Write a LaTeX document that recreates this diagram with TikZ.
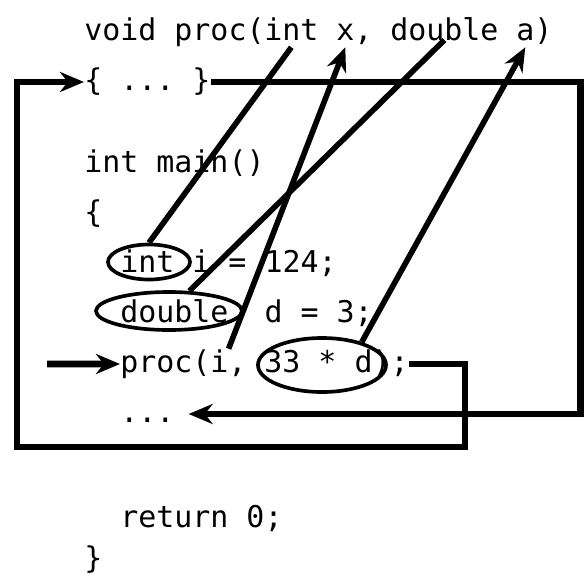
\documentclass[tikz,border=0pt]{standalone}
\usepackage{fontspec}
\setmonofont{DejaVu Sans Mono}
\usetikzlibrary{arrows.meta,shapes.geometric,calc}

\begin{document}
\begin{tikzpicture}[
   x=0.025cm,y=-0.025cm,
   code/.style={anchor=base west,inner sep=0pt,text height=0.575cm,text depth=0.175cm,
     font=\ttfamily\fontsize{21.3}{26}\selectfont},
   oval/.style={ellipse,draw,line width=2.6pt,inner sep=0pt},
   wire/.style={line width=4.8pt},
   param/.style={line width=4pt},
   arr/.style={-{Stealth[length=0.6cm,width=0.5cm]}}
 ]
  \useasboundingbox (0,0) rectangle (587,580);

  \node[code] (hv) at (84,40) {void proc(};
  \node[code] (hint) at (264,40) {int};
  \node[code] (hx) at (336,40) {x};
  \node[code] (hc) at (354,40) {,};
  \node[code] (hdbl) at (390,40) {double};
  \node[code] (ha) at (516,40) {a};
  \node[code] (hp) at (534,40) {)};

  \node[code] (body) at (84,90) {\{ ... \}};
  \node[code] (main) at (84,172) {int main()};
  \node[code] (lb) at (84,222) {\{};
  \node[code] (li) at (120,272) {int i = 124;};
  \node[code] (ld) at (120,322) {double~~d = 3;};
  \node[code] (pp) at (120,372) {proc(};
  \node[code] (pi) at (210,372) {i};
  \node[code] (pend) at (228,372) {, 33 * d);};
  \node[code] (dots) at (120,422) {...};
  \node[code] (ret) at (120,527) {return 0;};
  \node[code] (rb) at (84,568) {\}};

  \node[oval,minimum width=2.05cm,minimum height=0.875cm] (tint) at (149,262) {};
  \node[oval,minimum width=3.65cm,minimum height=0.95cm] (tdbl) at (169,311) {};
  \node[oval,minimum width=3.2cm,minimum height=1.35cm] (targ) at (322,365) {};

  \coordinate (cin) at (47,364);
  \coordinate (cbr) at (465,447);
  \coordinate (cbl) at (17,447);
  \draw[wire,arr] (cin) -- (pp.west);
  \draw[wire,arr] (pend.east) -| (cbr) -- (cbl) |- (body.west);
  \draw[wire,arr] (body.east) -| ($(dots.east)+(406,0)$) -- ($(dots.east)+(14,0)$);

  \draw[param] (tint.north) -- (hint.south);
  \draw[param] (tdbl) -- (hdbl.base);
  \draw[param,arr] (pi.north east) -- (hx.south);
  \draw[param,arr] (targ.30) -- (ha.south);
 \end{tikzpicture}
\end{document}
